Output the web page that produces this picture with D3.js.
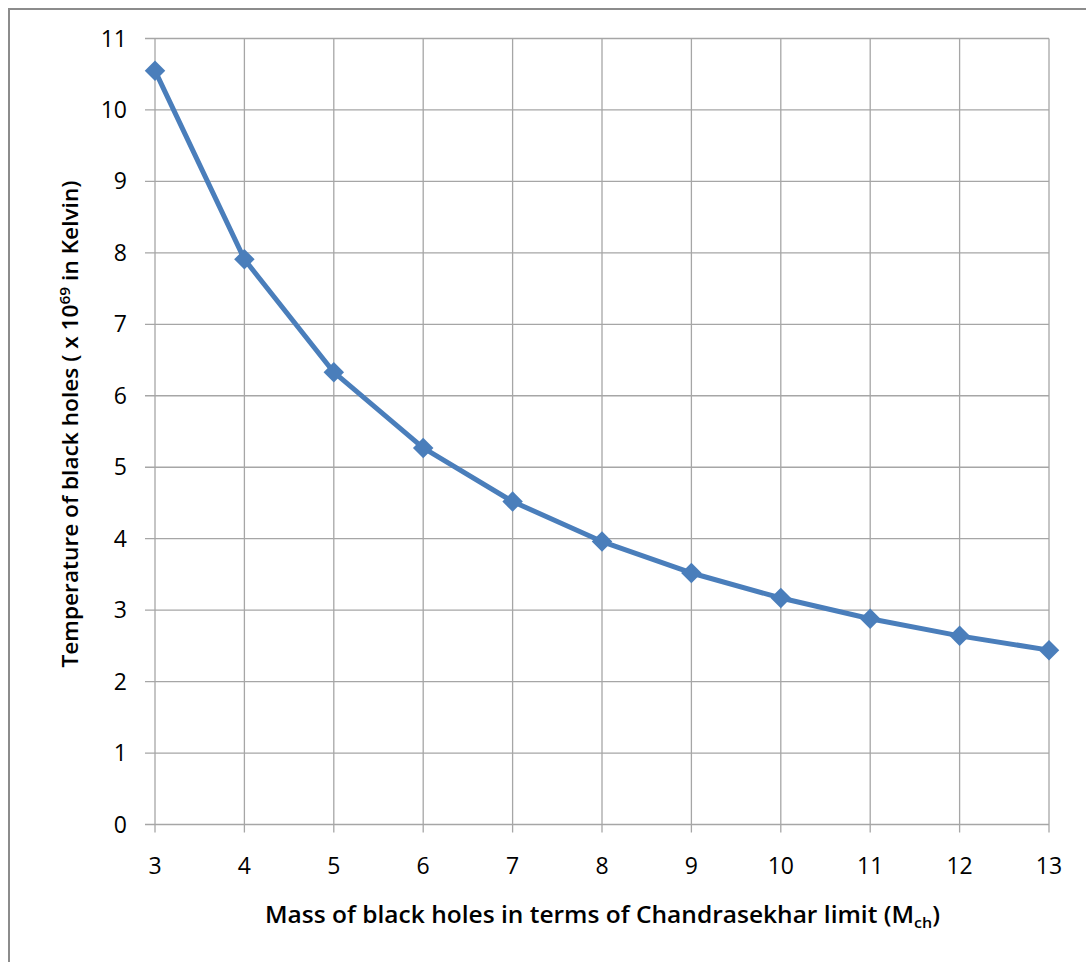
<!DOCTYPE html>
<html>
<head>
	<title>black hole temperature</title>
	<style>
		body { margin: 0; background: #fff; }
		text { font-family: "Open Sans", sans-serif; fill: #000; }
	</style>
</head>
<body>
<div class="chart"></div>
<script src="https://cdn.jsdelivr.net/npm/d3@7/dist/d3.min.js"></script>
<script>
	// data
	let masses = [3, 4, 5, 6, 7, 8, 9, 10, 11, 12, 13];
	let temps = [10.55, 7.91, 6.33, 5.27, 4.52, 3.96, 3.52, 3.17, 2.88, 2.64, 2.44];
	let yTicks = [0, 1, 2, 3, 4, 5, 6, 7, 8, 9, 10, 11];
	let xTicks = [3, 4, 5, 6, 7, 8, 9, 10, 11, 12, 13];

	window.onload = function(){
		showChart();
	}

	function showChart(){
		let svg_width = 1086;
		let svg_height = 962;
		let plot = {"left": 155, "top": 38.5, "right": 1049, "bottom": 824.5};

		let scaleX = d3.scaleLinear().domain([3, 13]).range([plot.left, plot.right]);
		let scaleY = d3.scaleLinear().domain([0, 11]).range([plot.bottom, plot.top]);

		let svg = d3.select(".chart").append("svg")
			.attr("width", svg_width)
			.attr("height", svg_height);

		// outer frame (cut at right and bottom)
		svg.append("rect")
			.attr("x", 9).attr("y", 9)
			.attr("width", svg_width + 20).attr("height", svg_height + 20)
			.attr("fill", "none").attr("stroke", "#8c8c8c").attr("stroke-width", 2);

		// grid
		let grid = svg.append("g").attr("stroke", "#a6a6a6").attr("stroke-width", 1.3);
		grid.selectAll(".gy").data(yTicks).enter().append("line")
			.attr("x1", plot.left - 10).attr("x2", plot.right)
			.attr("y1", d => scaleY(d)).attr("y2", d => scaleY(d));
		grid.selectAll(".gx").data(xTicks).enter().append("line")
			.attr("x1", d => scaleX(d)).attr("x2", d => scaleX(d))
			.attr("y1", plot.top).attr("y2", plot.bottom + 8);

		// tick labels
		svg.append("g").selectAll("text").data(yTicks).enter().append("text")
			.attr("x", 127).attr("y", d => scaleY(d) + 8)
			.attr("text-anchor", "end").attr("font-size", 23).attr("fill", "#1a1a1a")
			.text(d => d);
		svg.append("g").selectAll("text").data(xTicks).enter().append("text")
			.attr("x", d => scaleX(d)).attr("y", 874)
			.attr("text-anchor", "middle").attr("font-size", 23).attr("fill", "#1a1a1a")
			.text(d => d);

		// line + markers
		let points = masses.map((m, i) => ({"x": m, "y": temps[i]}));
		let line = d3.line().x(d => scaleX(d.x)).y(d => scaleY(d.y));
		svg.append("path").datum(points)
			.attr("d", line)
			.attr("fill", "none").attr("stroke", "#4a7ebb").attr("stroke-width", 5)
			.attr("stroke-linejoin", "round");
		svg.append("g").selectAll("path").data(points).enter().append("path")
			.attr("d", d3.symbol().type(d3.symbolSquare).size(210))
			.attr("transform", d => "translate(" + scaleX(d.x) + "," + scaleY(d.y) + ") rotate(45)")
			.attr("fill", "#4a7ebb");

		// axis titles
		let xt = svg.append("text")
			.attr("x", (265 + 940) / 2).attr("y", 923)
			.attr("text-anchor", "middle").attr("font-size", 23).attr("font-weight", 600)
			.attr("textLength", 675).attr("lengthAdjust", "spacingAndGlyphs");
		xt.append("tspan").text("Mass of black holes in terms of Chandrasekhar limit (M");
		xt.append("tspan").attr("font-size", 15).attr("dy", 5).text("ch");
		xt.append("tspan").attr("dy", -5).text(")");

		let yt = svg.append("text")
			.attr("transform", "translate(78, 424) rotate(-90)")
			.attr("text-anchor", "middle").attr("font-size", 22).attr("font-weight", 600)
			.attr("textLength", 487).attr("lengthAdjust", "spacingAndGlyphs");
		yt.append("tspan").text("Temperature of black holes ( x 10");
		yt.append("tspan").attr("font-size", 15).attr("dy", -8).text("69");
		yt.append("tspan").attr("dy", 8).text(" in Kelvin)");
	}
</script>
</body>
</html>
